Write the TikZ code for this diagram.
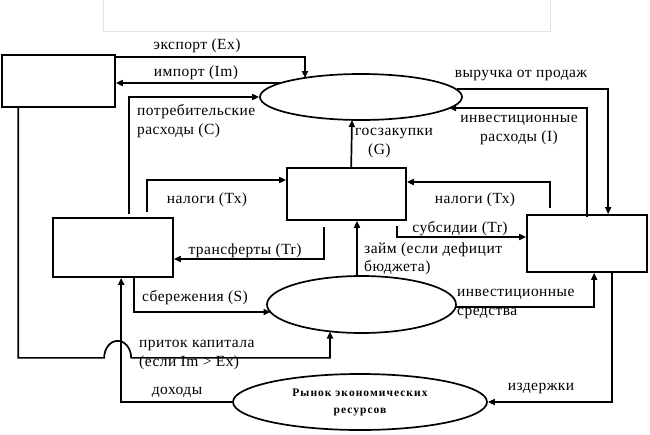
\documentclass[tikz,border=0pt]{standalone}
\usepackage{fontspec}
\setmainfont{Liberation Serif}
\newfontfamily\lblfont[LetterSpace=3]{Liberation Serif}
\newfontfamily\resfont[LetterSpace=9]{Liberation Serif}
\usetikzlibrary{arrows.meta,shapes.geometric,calc}
\begin{document}
\begin{tikzpicture}[x=1pt,y=-1pt,
  arr/.style={line width=1.7pt,-{Triangle[length=7pt,width=6pt]}},
  box/.style={draw,line width=1.7pt,rectangle,inner sep=0pt},
  ell/.style={draw,line width=1.7pt,ellipse,inner sep=0pt},
  lbl/.style={font=\lblfont\fontsize{15.5}{18.5}\selectfont,inner sep=0pt},
]
\useasboundingbox (0,0) rectangle (650,434);
% faint frame at top
\draw[line width=1pt,black!10] (103,0) -- (103,31) -- (550,31) -- (550,0);

% nodes
\node[box,minimum width=113pt,minimum height=52pt] (fs) at (58.5,81) {};
\node[ell,minimum width=202pt,minimum height=46pt] (gm) at (361,97) {};
\node[box,minimum width=120pt,minimum height=59pt] (hh) at (113,247.5) {};
\node[box,minimum width=119pt,minimum height=52pt] (gov) at (346.5,194) {};
\node[box,minimum width=120pt,minimum height=57pt] (firms) at (587,243.5) {};
\node[ell,minimum width=189pt,minimum height=57pt] (fin) at (361.5,304.5) {};
\node[ell,minimum width=254pt,minimum height=56pt,align=center,
      font=\resfont\bfseries\fontsize{11.5}{17}\selectfont] (res) at (360,402) {Рынок экономических\\ресурсов};

% connectors
\draw[arr] ($(fs.north east)+(0,3)$) -| ($(gm.center)+(-56,-19)$);
\draw[arr] ($(gm.center)+(-80,-14)$) -- ($(fs.east)+(0,2)$);
\draw[arr] ($(hh.north west)+(77,-3)$) |- (gm.west);
\draw[arr] ($(hh.north west)+(95,-5)$) |- ($(gov.west)+(0,-14)$);
\draw[arr] ($(gov.south west)+(38,6)$) |- ($(hh.east)+(0,11.5)$);
\draw[arr] ($(gov.north west)+(65,0)$) -- ($(gm.center)+(-9,23)$);
\draw[arr] ($(hh.south west)+(82,0)$) |- ($(fin.center)+(-91,7.5)$);
\draw[arr] (res.west) -| ($(hh.south west)+(69,0)$);
\draw[arr] ($(fs.south west)+(17,0)$) -- ($(fs.south west)+(17,250)$) -- ($(fs.south west)+(103,250)$)
   arc[start angle=180,end angle=0,x radius=13.5pt,y radius=17pt] -| ($(fin.center)+(-31.5,27)$);
\draw[arr] ($(fin.north)+(-4.5,0)$) -- ($(gov.south)+(10.5,0)$);
\draw[arr] ($(gov.south east)+(-10,5)$) |- ($(firms.west)+(0,-6.5)$);
\draw[arr] ($(firms.north west)+(24,-6)$) |- ($(gov.east)+(0,-12)$);
\draw[arr] ($(gm.center)+(96,-8)$) -| ($(firms.north west)+(82,0)$);
\draw[arr] ($(firms.north west)+(61,3)$) |- ($(gm.center)+(88,11)$);
\draw[arr] ($(fin.center)+(94,2.5)$) -| ($(firms.south west)+(68,0)$);
\draw[arr] ($(firms.south west)+(86,0)$) |- (res.east);

% labels
\node[lbl] (lex) at (197,46) {экспорт (Ex)};
\node[lbl] (lim) at (196,73) {импорт (Im)};
\node[lbl,anchor=west,align=left] (lc) at (137,121) {потребительские\\расходы (С)};
\node[lbl] (ltx1) at (207,200) {налоги (Тх)};
\node[lbl] (ltr) at (245,251) {трансферты (Tr)};
\node[lbl] (ls) at (195,298) {сбережения (S)};
\node[lbl,anchor=west,align=left] (lk) at (139,355) {приток капитала\\(если Im > Ex)};
\node[lbl] (ld) at (177,392) {доходы};
\node[lbl,anchor=west,align=left] (lg) at (355,143) {госзакупки\\\hspace*{13pt}(G)};
\node[lbl] (lrev) at (521,76) {выручка от продаж};
\node[lbl,align=center] (li) at (519,130) {инвестиционные\\расходы (I)};
\node[lbl] (ltx2) at (475,200) {налоги (Тх)};
\node[lbl] (lsub) at (460,229) {субсидии (Tr)};
\node[lbl,anchor=west,align=left] (ll) at (364,259) {займ (если дефицит\\бюджета)};
\node[lbl,anchor=west,align=left] (lf) at (457,304) {инвестиционные\\средства};
\node[lbl] (lcost) at (541,388) {издержки};
\end{tikzpicture}
\end{document}
